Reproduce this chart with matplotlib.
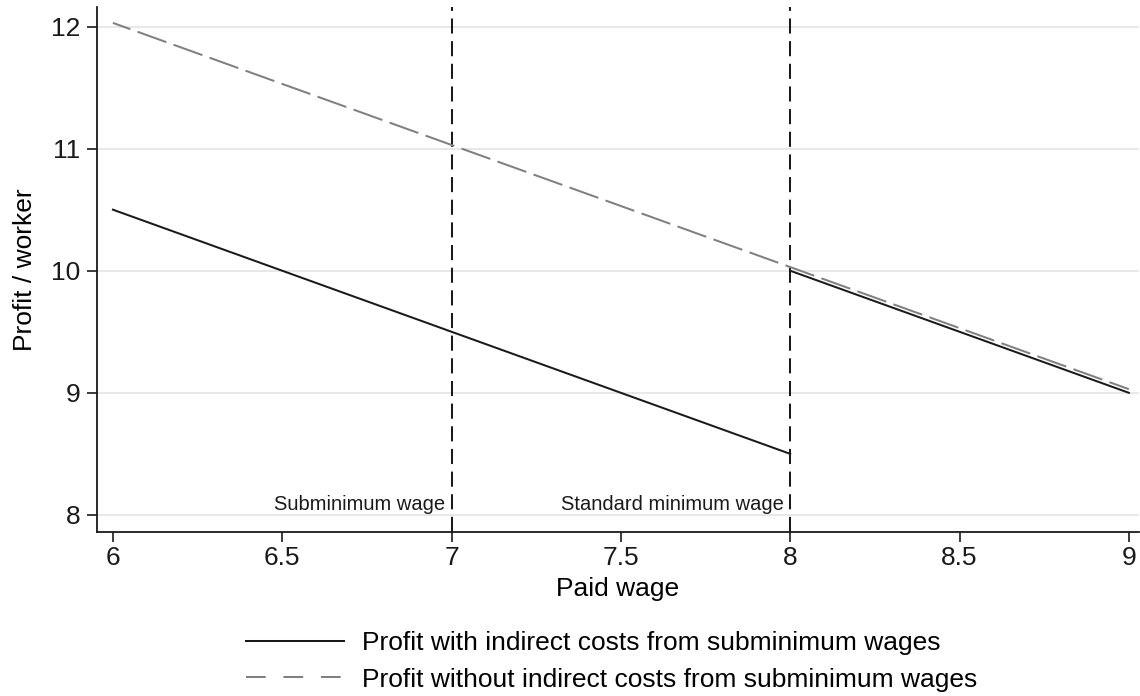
import matplotlib
matplotlib.use('Agg')
from matplotlib import pyplot as plt
from matplotlib.lines import Line2D

plt.rcParams['font.family'] = ['Liberation Sans', 'DejaVu Sans']

# Profit with indirect costs: two pieces, below and above the standard minimum wage
wage_sub = [6, 8]
profit_with_sub = [10.5, 8.5]
wage_std = [8, 9]
profit_with_std = [10, 9]

# Profit without indirect costs
wage_all = [6, 9]
profit_without = [12.03, 9.03]

# Reference wages
wage_marks = [7, 8]
wage_mark_labels = ['Subminimum wage', 'Standard minimum wage']

x_ticks = [6, 6.5, 7, 7.5, 8, 8.5, 9]
x_ticklabels = ['6', '6.5', '7', '7.5', '8', '8.5', '9']
y_ticks = [8, 9, 10, 11, 12]

fig = plt.figure(figsize=(11.4, 6.96), dpi=100)
ax = fig.add_axes([97 / 1140, 1 - 532 / 696, 1042 / 1140, 525 / 696])

# horizontal grid
for yv in y_ticks:
    ax.axhline(yv, color='#e6e6e6', lw=1.3, zorder=0)

# vertical reference lines
for xv, lab in zip(wage_marks, wage_mark_labels):
    ax.axvline(xv, color='#1a1a1a', lw=1.45, linestyle=(0, (7.5, 3.75)), zorder=3)
    ax.text(xv - 0.02, 8.04, lab, ha='right', va='baseline', fontsize=14.5,
            color='#1a1a1a')

ax.plot(wage_sub, profit_with_sub, color='#1a1a1a', lw=1.45, zorder=4)
ax.plot(wage_std, profit_with_std, color='#1a1a1a', lw=1.45, zorder=4)
ax.plot(wage_all, profit_without, color='#808080', lw=1.45,
        linestyle=(6, (15.2, 3.8)), zorder=5)

ax.set_xlim(5.953, 9.03)
ax.set_ylim(7.86, 12.16)
ax.set_xticks(x_ticks)
ax.set_xticklabels(x_ticklabels)
ax.set_yticks(y_ticks)

ax.spines['top'].set_visible(False)
ax.spines['right'].set_visible(False)
for s in ['left', 'bottom']:
    ax.spines[s].set_linewidth(1.3)
    ax.spines[s].set_color('#1a1a1a')
ax.tick_params(axis='both', direction='out', length=7, width=1.2,
               labelsize=19, colors='#1a1a1a')
ax.tick_params(axis='x', pad=3)
ax.tick_params(axis='y', pad=5)

ax.set_xlabel('Paid wage', fontsize=19, labelpad=5)
ax.set_ylabel('Profit / worker', fontsize=19, labelpad=10)

# legend handles (legend dashes are spaced wider than in the plot)
h_with = Line2D([], [], color='#1a1a1a', lw=1.45)
h_without = Line2D([], [], color='#808080', lw=1.45, linestyle=(0, (9.8, 8.8)))
fig.legend([h_with, h_without],
           ['Profit with indirect costs from subminimum wages',
            'Profit without indirect costs from subminimum wages'],
           loc='upper left', bbox_to_anchor=(246 / 1140, 1 - 631 / 696),
           frameon=False, fontsize=19, handlelength=3.7, handletextpad=0.7,
           labelspacing=0.48, borderpad=0, borderaxespad=0)

fig.savefig('out.png', dpi=100)
